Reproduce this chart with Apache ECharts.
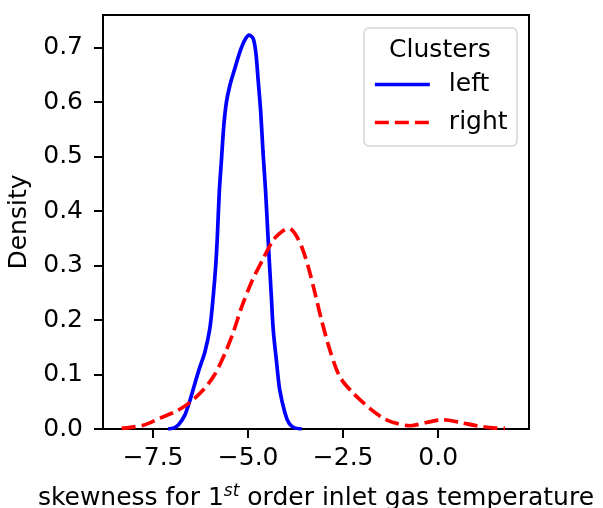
<!DOCTYPE html>
<html>
<head>
<meta charset="utf-8">
<script src="https://cdn.jsdelivr.net/npm/echarts@6/dist/echarts.min.js"></script>
<style>html,body{margin:0;padding:0;background:#fff;}#c{width:603px;height:508px;}</style>
</head>
<body>
<div id="c"></div>
<script>
const seriesNames = ['left', 'right'];
const legendTitle = 'Clusters';
const xTicks = [-7.5, -5.0, -2.5, 0.0];
const yTicks = [0, 0.1, 0.2, 0.3, 0.4, 0.5, 0.6, 0.7];
const leftX = [-7.11, -6.95, -6.83, -6.67, -6.53, -6.40, -6.27, -6.14, -6.01, -5.92, -5.85, -5.81, -5.76, -5.70, -5.64, -5.57, -5.48, -5.35, -5.22, -5.09, -4.97, -4.87, -4.80, -4.74, -4.67, -4.61, -4.54, -4.48, -4.44, -4.39, -4.34, -4.25, -4.17, -4.03, -3.92, -3.78, -3.59];
const leftY = [0.0, 0.002, 0.008, 0.025, 0.053, 0.084, 0.114, 0.141, 0.184, 0.243, 0.304, 0.355, 0.435, 0.497, 0.558, 0.601, 0.631, 0.662, 0.692, 0.714, 0.723, 0.717, 0.692, 0.643, 0.582, 0.509, 0.435, 0.355, 0.304, 0.243, 0.182, 0.121, 0.072, 0.029, 0.010, 0.002, 0.0];
const rightX = [-8.33, -7.76, -7.32, -6.88, -6.53, -6.18, -5.88, -5.61, -5.39, -5.17, -4.91, -4.61, -4.34, -4.17, -4.03, -3.92, -3.77, -3.59, -3.42, -3.24, -3.07, -2.85, -2.59, -2.24, -1.80, -1.45, -1.18, -0.74, -0.31, 0.13, 0.57, 1.01, 1.45, 1.76];
const rightY = [0.001, 0.007, 0.020, 0.033, 0.049, 0.072, 0.100, 0.139, 0.178, 0.224, 0.270, 0.312, 0.347, 0.359, 0.366, 0.368, 0.359, 0.334, 0.298, 0.249, 0.200, 0.145, 0.096, 0.066, 0.038, 0.020, 0.012, 0.006, 0.012, 0.017, 0.012, 0.006, 0.002, 0.001];

const FONT = 'DejaVu Sans';
const FS = 25;
const LW = 3.7;
const zip = (a, b) => a.map((v, i) => [v, b[i]]);
const fmt = v => (v < 0 ? '\u2212' : '') + Math.abs(v).toFixed(1);

const chart = echarts.init(document.getElementById('c'), null, {renderer: 'canvas'});
chart.setOption({
  animation: false,
  backgroundColor: '#fff',
  grid: {left: 103, top: 15, right: 74, bottom: 79, outerBoundsMode: 'none', containLabel: false, show: true, borderColor: '#000', borderWidth: 2, backgroundColor: 'transparent'},
  xAxis: {
    type: 'value', min: -8.82, max: 2.39,
    splitLine: {show: false},
    axisLine: {show: true, onZero: false, lineStyle: {color: '#000', width: 2}},
    axisTick: {show: true, length: 9, customValues: xTicks, lineStyle: {color: '#000', width: 2}},
    axisLabel: {customValues: xTicks, formatter: fmt, color: '#000', fontFamily: FONT, fontSize: FS, margin: 17},
    name: 'skewness for 1{sup|st} order inlet gas temperature',
    nameLocation: 'middle', nameGap: 54,
    nameTextStyle: {color: '#000', fontFamily: FONT, fontSize: FS,
      rich: {sup: {fontSize: 17, fontStyle: 'italic', fontFamily: FONT, color: '#000', verticalAlign: 'top', padding: [0, 0, 13, 0]}}}
  },
  yAxis: {
    type: 'value', min: 0, max: 0.76,
    splitLine: {show: false},
    axisLine: {show: true, onZero: false, lineStyle: {color: '#000', width: 2}},
    axisTick: {show: true, length: 9, customValues: yTicks, lineStyle: {color: '#000', width: 2}},
    axisLabel: {customValues: yTicks, formatter: v => v.toFixed(1), color: '#000', fontFamily: FONT, fontSize: FS, margin: 20},
    name: 'Density', nameLocation: 'middle', nameGap: 61,
    nameTextStyle: {color: '#000', fontFamily: FONT, fontSize: FS}
  },
  legend: {
    orient: 'vertical', left: 373, top: 72, padding: 0,
    itemWidth: 55, itemHeight: 14, itemGap: 13,
    itemStyle: {opacity: 0},
    textStyle: {color: '#000', fontFamily: FONT, fontSize: FS, lineHeight: 25, padding: [0, 0, 0, 14]},
    data: [
      {name: seriesNames[0], lineStyle: {color: '#0000ff', width: LW, type: 'solid'}},
      {name: seriesNames[1], lineStyle: {color: '#ff0000', width: LW, type: [14, 6]}}
    ]
  },
  graphic: [
    {type: 'rect', x: 364, y: 28, z: -1, shape: {x: 0, y: 0, width: 153, height: 118, r: 5}, style: {fill: 'rgba(255,255,255,0.8)', stroke: '#d6d6d6', lineWidth: 1.5}},
    {type: 'text', x: 440, y: 50, style: {text: legendTitle, fill: '#000', font: FS + 'px "DejaVu Sans"', textAlign: 'center', textVerticalAlign: 'middle'}}
  ],
  series: [
    {name: seriesNames[0], type: 'line', data: zip(leftX, leftY), smooth: 0.3, symbol: 'none', lineStyle: {color: '#0000ff', width: LW}, itemStyle: {color: '#0000ff'}},
    {name: seriesNames[1], type: 'line', data: zip(rightX, rightY), smooth: 0.3, symbol: 'none', lineStyle: {color: '#ff0000', width: LW, type: [14, 6]}, itemStyle: {color: '#ff0000'}}
  ]
});
</script>
</body>
</html>
